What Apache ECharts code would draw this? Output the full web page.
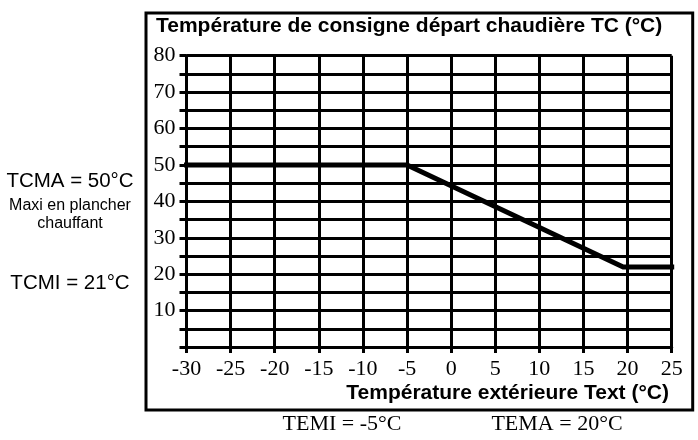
<!DOCTYPE html>
<html>
<head>
<meta charset="utf-8">
<title>Température de consigne</title>
<script src="https://cdn.jsdelivr.net/npm/echarts@6/dist/echarts.min.js"></script>
<style>
  html, body { margin: 0; padding: 0; background: #fff; }
  #main { width: 698px; height: 440px; }
</style>
</head>
<body>
<div id="main"></div>
<script>
/* données de la courbe */
var xMin = -30;
var xMax = 25;
var yMin = 0;
var yMax = 80;
var pas = 5;
var courbeText = [-30, -5, 19.5, 25];
var courbeTC = [50, 50, 22, 22];

/* textes */
var titreY = 'Température de consigne départ chaudière TC (°C)';
var titreX = 'Température extérieure Text (°C)';
var noteTCMA = 'TCMA = 50°C';
var noteMaxi = ['Maxi en plancher', 'chauffant'];
var noteTCMI = 'TCMI = 21°C';
var noteTEMI = 'TEMI = -5°C';
var noteTEMA = 'TEMA = 20°C';

var serif = '"Liberation Serif", "Times New Roman", serif';
var sans = '"Liberation Sans", Arial, sans-serif';

var myChart = echarts.init(document.getElementById('main'));

var points = [];
for (var i = 0; i < courbeText.length; i++) {
  points.push([courbeText[i], courbeTC[i]]);
}

var traitNoir = { color: '#000', width: 3, type: 'solid' };

option = {
  animation: false,
  backgroundColor: '#fff',
  grid: {
    left: 186.5,
    top: 55.7,
    right: 26.3,
    bottom: 93,
    containLabel: false
  },
  xAxis: {
    type: 'value',
    min: xMin,
    max: xMax,
    interval: pas,
    axisLine: { show: true, onZero: false, lineStyle: traitNoir },
    axisTick: { show: true, length: 6, lineStyle: traitNoir },
    splitLine: { show: true, lineStyle: traitNoir },
    axisLabel: {
      color: '#000',
      fontFamily: serif,
      fontSize: 22,
      margin: 11
    }
  },
  yAxis: {
    type: 'value',
    min: yMin,
    max: yMax,
    interval: pas,
    axisLine: { show: true, onZero: false, lineStyle: traitNoir },
    axisTick: { show: true, length: 7, lineStyle: traitNoir },
    splitLine: { show: true, lineStyle: traitNoir },
    axisLabel: {
      color: '#000',
      fontFamily: serif,
      fontSize: 22,
      margin: 11,
      formatter: function (v) {
        // seulement les dizaines
        return v % 10 === 0 && v !== 0 ? String(v) : '';
      }
    }
  },
  series: [
    {
      name: 'TC',
      type: 'line',
      data: points,
      symbol: 'none',
      lineStyle: { color: '#000', width: 5, cap: 'square', join: 'miter' },
      z: 5
    }
  ],
  graphic: [
    // cadre
    {
      type: 'rect',
      shape: { x: 146, y: 13, width: 546.7, height: 397 },
      style: { fill: 'none', stroke: '#000', lineWidth: 3 },
      z: 10
    },
    {
      type: 'text', left: 156, top: 16,
      style: { text: titreY, font: 'bold 21px ' + sans, fill: '#000' }
    },
    {
      type: 'text', right: 29, top: 383,
      style: { text: titreX, font: 'bold 21px ' + sans, fill: '#000' }
    },
    {
      type: 'text', x: 70, y: 181,
      style: { text: noteTCMA, font: '20.5px ' + sans, fill: '#000', textAlign: 'center', textVerticalAlign: 'middle' }
    },
    {
      type: 'text', x: 70, y: 206,
      style: { text: noteMaxi[0], font: '16px ' + sans, fill: '#000', textAlign: 'center', textVerticalAlign: 'middle' }
    },
    {
      type: 'text', x: 70, y: 224,
      style: { text: noteMaxi[1], font: '16px ' + sans, fill: '#000', textAlign: 'center', textVerticalAlign: 'middle' }
    },
    {
      type: 'text', x: 70, y: 283,
      style: { text: noteTCMI, font: '20.5px ' + sans, fill: '#000', textAlign: 'center', textVerticalAlign: 'middle' }
    },
    {
      type: 'text', x: 342, y: 424,
      style: { text: noteTEMI, font: '22px ' + serif, fill: '#000', textAlign: 'center', textVerticalAlign: 'middle' }
    },
    {
      type: 'text', x: 557, y: 424,
      style: { text: noteTEMA, font: '22px ' + serif, fill: '#000', textAlign: 'center', textVerticalAlign: 'middle' }
    }
  ]
};

myChart.setOption(option);
</script>
</body>
</html>
